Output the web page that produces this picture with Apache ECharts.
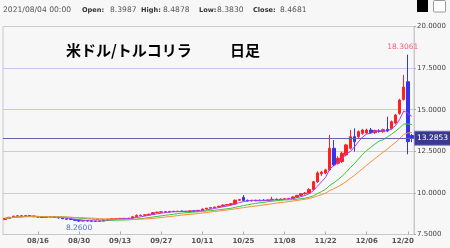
<!DOCTYPE html>
<html><head><meta charset="utf-8">
<script src="https://cdn.jsdelivr.net/npm/echarts@6/dist/echarts.min.js"></script>
<style>html,body{margin:0;padding:0;background:#f7f7f7}#c{width:450px;height:248px}</style>
</head><body><div id="c"></div><script>
const dates=['08/04','08/05','08/06','08/09','08/10','08/11','08/12','08/13',
'08/16','08/17','08/18','08/19','08/20','08/23','08/24','08/25','08/26','08/27',
'08/30','08/31','09/01','09/02','09/03','09/06','09/07','09/08','09/09','09/10',
'09/13','09/14','09/15','09/16','09/17','09/20','09/21','09/22','09/23','09/24',
'09/27','09/28','09/29','09/30','10/01','10/04','10/05','10/06','10/07','10/08',
'10/11','10/12','10/13','10/14','10/15','10/18','10/19','10/20','10/21','10/22',
'10/25','10/26','10/27','10/28','10/29','11/01','11/02','11/03','11/04','11/05',
'11/08','11/09','11/10','11/11','11/12','11/15','11/16','11/17','11/18','11/19',
'11/22','11/23','11/24','11/25','11/26','11/29','11/30','12/01','12/02','12/03',
'12/06','12/07','12/08','12/09','12/10','12/13','12/14','12/15','12/16','12/17',
'12/20','12/21'];
const opens=[8.3987,8.4681,8.53,8.60,8.62,8.59,8.63,8.60,
8.57,8.55,8.52,8.56,8.57,8.53,8.49,8.45,8.42,8.40,
8.35,8.31,8.33,8.31,8.30,8.29,8.31,8.38,8.42,8.44,
8.45,8.47,8.46,8.48,8.57,8.64,8.66,8.68,8.72,8.81,
8.84,8.86,8.85,8.89,8.88,8.90,8.89,8.87,8.92,8.90,
8.95,9.03,9.08,9.12,9.15,9.20,9.27,9.30,9.33,9.56,
9.73,9.55,9.52,9.55,9.53,9.56,9.54,9.58,9.62,9.60,
9.63,9.65,9.67,9.76,9.85,9.95,9.99,10.20,10.67,11.15,
11.20,11.38,12.68,11.78,11.88,12.28,12.68,13.38,13.38,13.58,
13.60,13.78,13.62,13.72,13.68,13.82,13.88,14.20,14.78,15.62,
16.68,13.45];
const highs=[8.4878,8.56,8.63,8.66,8.65,8.66,8.65,8.63,
8.60,8.58,8.58,8.60,8.59,8.55,8.51,8.48,8.46,8.42,
8.37,8.35,8.36,8.34,8.33,8.33,8.40,8.44,8.46,8.47,
8.49,8.49,8.50,8.59,8.71,8.69,8.71,8.74,8.85,8.87,
8.89,8.90,8.91,8.92,8.92,8.94,8.93,8.94,8.95,8.97,
9.06,9.10,9.14,9.17,9.22,9.30,9.33,9.38,9.60,9.64,
9.87,9.60,9.58,9.59,9.60,9.62,9.61,9.77,9.66,9.66,
9.68,9.70,9.80,9.88,9.99,10.05,10.28,10.72,11.30,11.32,
11.45,13.48,13.18,12.20,12.48,12.95,13.78,13.88,13.75,13.85,
13.86,13.90,13.80,13.82,13.86,14.58,14.35,14.75,15.65,17.09,
18.3061,13.55];
const lows=[8.3830,8.44,8.50,8.56,8.57,8.57,8.58,8.55,
8.52,8.50,8.50,8.53,8.51,8.47,8.43,8.40,8.38,8.33,
8.26,8.28,8.29,8.28,8.27,8.27,8.30,8.36,8.39,8.41,
8.42,8.43,8.44,8.47,8.55,8.60,8.63,8.65,8.70,8.78,
8.81,8.82,8.83,8.85,8.85,8.86,8.85,8.85,8.88,8.88,
8.93,9.00,9.05,9.08,9.12,9.18,9.24,9.28,9.31,9.52,
9.50,9.48,9.48,9.50,9.50,9.51,9.52,9.55,9.56,9.57,
9.59,9.61,9.65,9.73,9.82,9.90,9.96,10.15,10.60,11.02,
11.12,11.33,11.60,11.70,11.80,12.20,12.60,12.48,13.25,13.50,
13.52,13.55,13.55,13.62,13.62,13.65,13.80,14.12,14.70,15.55,
12.32,13.05];
const closes=[8.4681,8.53,8.60,8.62,8.59,8.63,8.60,8.57,
8.55,8.52,8.56,8.57,8.53,8.49,8.45,8.42,8.40,8.35,
8.31,8.33,8.31,8.30,8.29,8.31,8.38,8.42,8.44,8.45,
8.47,8.46,8.48,8.57,8.64,8.66,8.68,8.72,8.81,8.84,
8.86,8.85,8.89,8.88,8.90,8.89,8.87,8.92,8.90,8.95,
9.03,9.08,9.12,9.15,9.20,9.27,9.30,9.35,9.56,9.60,
9.55,9.52,9.55,9.53,9.56,9.54,9.58,9.62,9.60,9.63,
9.65,9.67,9.76,9.85,9.95,9.99,10.20,10.67,11.20,11.25,
11.38,12.68,11.68,12.08,12.38,12.88,13.38,13.08,13.68,13.78,
13.78,13.62,13.75,13.70,13.80,13.72,14.28,14.68,15.58,16.36,
13.08,13.2853];
const tickLabels=['08/16','08/30','09/13','09/27','10/11','10/25','11/08','11/22','12/06','12/20'];
const maPeriods=[5,13,20];
const maColors=['#a040ff','#33cc33','#ff8c3a'];

function sma(n){
  return closes.map((_,i)=>{const s=Math.max(0,i-n+1);let sum=0;for(let k=s;k<=i;k++)sum+=closes[k];return +(sum/(i-s+1)).toFixed(4);});
}
const candles=dates.map((d,i)=>[opens[i],closes[i],lows[i],highs[i]]);
const maxHigh=Math.max(...highs), maxIdx=highs.indexOf(maxHigh);
const minLow=Math.min(...lows), minIdx=lows.indexOf(minLow);
const last=closes[closes.length-1];
const F='DejaVu Sans';
const chart=echarts.init(document.getElementById('c'),null,{renderer:'canvas'});
const hdr=(x,t,b)=>({type:'text',x:x,y:10,style:{text:t,font:(b?'bold 6.6px':'7.6px')+' "DejaVu Sans"',fill:b?'#333':'#555',verticalAlign:'middle'}});
chart.setOption({
  animation:false,
  backgroundColor:'#f7f7f7',
  grid:{left:3,right:36,top:26.5,bottom:13.5,show:true,borderColor:'#c8c8c8',borderWidth:1,outerBoundsMode:'none'},
  xAxis:{type:'category',data:dates,boundaryGap:true,
    axisLine:{lineStyle:{color:'#c8c8c8'}},
    axisTick:{show:true,inside:true,length:3,alignWithLabel:true,interval:(i,v)=>tickLabels.includes(v),lineStyle:{color:'#aaa'}},
    axisLabel:{interval:(i,v)=>tickLabels.includes(v),fontSize:7,fontWeight:'bold',color:'#555',fontFamily:F,margin:3,
      formatter:v=>v===tickLabels[tickLabels.length-1]?'{r|'+v+'}':v,
      rich:{r:{padding:[0,10,0,0],fontSize:7,fontWeight:'bold',color:'#555',fontFamily:F}}},
    splitLine:{show:false}},
  yAxis:{type:'value',position:'right',min:7.5,max:20,interval:2.5,scale:true,
    axisLine:{show:true,lineStyle:{color:'#c8c8c8'}},
    axisTick:{show:true,length:2,lineStyle:{color:'#aaa'}},
    axisLabel:{fontSize:7,color:'#444',fontFamily:F,margin:3,formatter:v=>v.toFixed(4)},
    splitLine:{show:true,lineStyle:{color:['#cccccc','#cccccc','#cccccc','#c6c6ee','#c6c6ee','#cccccc'],width:1}}},
  series:[
    {type:'candlestick',data:candles,barWidth:3,
      itemStyle:{color:'#ff2020',color0:'#3434ee',borderColor:'#ff2020',borderColor0:'#3434ee',borderWidth:1},
      markPoint:{symbol:'circle',symbolSize:1,itemStyle:{color:'rgba(0,0,0,0)'},
        label:{show:true,fontSize:7.5,fontFamily:F,formatter:p=>p.value.toFixed(4)},
        data:[
          {coord:[dates[maxIdx],maxHigh],value:maxHigh,label:{position:'top',distance:3,color:'#f0607a',offset:[-5,0]}},
          {coord:[dates[minIdx],minLow],value:minLow,label:{position:'bottom',distance:2,color:'#4a70d8'}}
        ]},
      markLine:{silent:true,symbol:['none','none'],precision:4,
        lineStyle:{color:'#6262b4',width:1.2,type:'solid'},
        label:{show:true,position:'end',distance:1,formatter:()=>last.toFixed(4),color:'#fff',backgroundColor:'#3a3a8a',borderColor:'#7a7ac0',borderWidth:1,padding:[3,2,2,2],fontSize:7.5,fontFamily:F},
        data:[{yAxis:last}]}
    },
    ...maPeriods.map((n,k)=>({type:'line',data:sma(n),showSymbol:false,symbol:'none',lineStyle:{color:maColors[k],width:1},z:3}))
  ],
  graphic:[
    hdr(3,'2021/'+dates[0]+' 00:00',false),
    hdr(82,'Open:',true),hdr(110,opens[0].toFixed(4),false),
    hdr(141,'High:',true),hdr(163,highs[0].toFixed(4),false),
    hdr(199,'Low:',true),hdr(217,lows[0].toFixed(4),false),
    hdr(253,'Close:',true),hdr(280,closes[0].toFixed(4),false),
    {type:'rect',shape:{x:417,y:0,width:11,height:12},style:{fill:'#000'}},
    {type:'rect',shape:{x:433.5,y:0.5,width:12,height:11.5,r:1},style:{fill:'#fff',stroke:'#999',lineWidth:1}},
    {type:'text',x:66,y:50,style:{text:'米ドル/トルコリラ',font:'bold 15px "Noto Sans CJK JP"',fill:'#000',verticalAlign:'middle'}},
    {type:'text',x:230,y:50,style:{text:'日足',font:'bold 15px "Noto Sans CJK JP"',fill:'#000',verticalAlign:'middle'}}
  ]
});
</script></body></html>
